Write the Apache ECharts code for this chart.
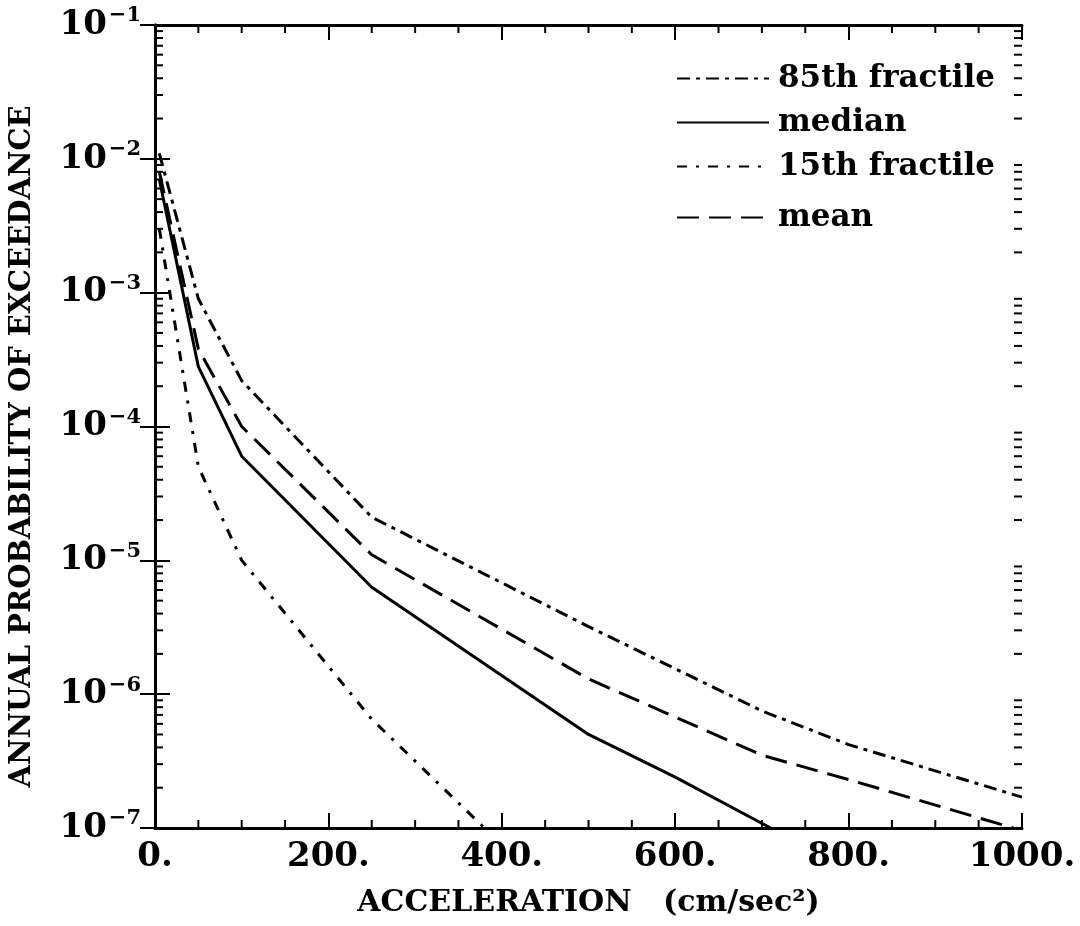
<!DOCTYPE html>
<html>
<head>
<meta charset="utf-8">
<script src="https://cdn.jsdelivr.net/npm/echarts@6/dist/echarts.min.js"></script>
<style>html,body{margin:0;padding:0;background:#fff}#c{width:1080px;height:926px}</style>
</head>
<body>
<div id="c"></div>
<script>
// ---- data ----
const xTickLabels = [0, 200, 400, 600, 800, 1000];
const p85X = [5, 50, 100, 250, 500, 700, 800, 1000];
const p85Y = [1.1e-2, 9e-4, 2.2e-4, 2.1e-5, 3.2e-6, 7.5e-7, 4.2e-7, 1.7e-7];
const medianX = [5, 50, 100, 250, 500, 600, 710];
const medianY = [7e-3, 2.8e-4, 6e-5, 6.3e-6, 5e-7, 2.4e-7, 1e-7];
const p15X = [5, 50, 100, 250, 380];
const p15Y = [3e-3, 5e-5, 1e-5, 6.5e-7, 1e-7];
const meanX = [5, 50, 100, 250, 500, 700, 800, 990];
const meanY = [8e-3, 3.8e-4, 1.0e-4, 1.1e-5, 1.3e-6, 3.5e-7, 2.3e-7, 1e-7];
const yMinorTicks = [];
for (let e = -7; e < -1; e++) for (let m = 2; m <= 9; m++) yMinorTicks.push(m * Math.pow(10, e));
const xMinorTicks = [50, 100, 150, 250, 300, 350, 450, 500, 550, 650, 700, 750, 850, 900, 950];

const zip = (xs, ys) => xs.map((x, i) => [x, ys[i]]);
const FONT = '"DejaVu Serif", serif';
const chart = echarts.init(document.getElementById('c'), null, {renderer: 'canvas'});

const tickSeries = {
  type: 'custom', silent: true, clip: false, z: 5,
  data: yMinorTicks.map(v => [0, v, 'y']).concat(xMinorTicks.map(v => [v, 1e-7, 'x'])),
  encode: {x: 0, y: 1},
  renderItem: function (params, api) {
    const kind = api.value(2);
    const lines = [];
    const st = {stroke: '#000', lineWidth: 2};
    if (kind === 'y') {
      const v = api.value(1);
      const l = api.coord([0, v]);
      const r = api.coord([1000, v]);
      lines.push({type: 'line', shape: {x1: l[0], y1: l[1], x2: l[0] + 8, y2: l[1]}, style: st});
      lines.push({type: 'line', shape: {x1: r[0], y1: r[1], x2: r[0] - 8, y2: r[1]}, style: st});
    } else {
      const v = api.value(0);
      const b = api.coord([v, 1e-7]);
      const t = api.coord([v, 1e-1]);
      lines.push({type: 'line', shape: {x1: b[0], y1: b[1], x2: b[0], y2: b[1] - 8}, style: st});
      lines.push({type: 'line', shape: {x1: t[0], y1: t[1], x2: t[0], y2: t[1] + 8}, style: st});
    }
    return {type: 'group', children: lines};
  }
};

const lineBase = (name, data, dash) => ({
  name: name, type: 'line', data: data, symbol: 'none', smooth: false,
  lineStyle: {color: '#000', width: 3, type: dash, cap: 'butt'},
  itemStyle: {color: '#000'}, z: 3
});

const legendText = {fontFamily: FONT, fontWeight: 'bold', fontSize: 31, color: '#000', padding: [0, 0, 0, 4]};

const option = {
  backgroundColor: '#fff',
  animation: false,
  grid: {left: 154, top: 25, width: 868, height: 803},
  legend: [{
    data: ['85th fractile', 'median', '15th fractile'],
    orient: 'vertical', left: 671, top: 58, itemWidth: 92, itemHeight: 28, itemGap: 13,
    selectedMode: false, itemStyle: {opacity: 0},
    textStyle: legendText
  }, {
    data: ['mean'],
    orient: 'vertical', left: 671, top: 197, itemWidth: 92, itemHeight: 28,
    selectedMode: false, itemStyle: {opacity: 0},
    textStyle: legendText
  }],
  xAxis: [{
    type: 'value', min: 0, max: 1000, interval: 200, position: 'bottom',
    name: 'ACCELERATION   (cm/sec²)', nameLocation: 'middle', nameGap: 60,
    nameTextStyle: {fontFamily: FONT, fontWeight: 'bold', fontSize: 30, color: '#000'},
    axisLine: {lineStyle: {color: '#000', width: 3}},
    axisTick: {inside: true, length: 15, lineStyle: {color: '#000', width: 2}},
    axisLabel: {fontFamily: FONT, fontWeight: 'bold', fontSize: 34, color: '#000', margin: 12,
      formatter: v => xTickLabels.indexOf(v) >= 0 ? v + '.' : ''},
    splitLine: {show: false}
  }, {
    type: 'value', min: 0, max: 1000, interval: 200, position: 'top',
    axisLine: {lineStyle: {color: '#000', width: 3}},
    axisTick: {inside: true, length: 15, lineStyle: {color: '#000', width: 2}},
    axisLabel: {show: false}, splitLine: {show: false}
  }],
  yAxis: [{
    type: 'log', logBase: 10, min: 1e-7, max: 1e-1, interval: 1, position: 'left',
    name: 'ANNUAL PROBABILITY OF EXCEEDANCE', nameLocation: 'middle', nameGap: 118, nameRotate: 90,
    nameTextStyle: {fontFamily: FONT, fontWeight: 'bold', fontSize: 29, color: '#000', padding: [0, 40, 0, 0]},
    axisLine: {lineStyle: {color: '#000', width: 3}},
    axisTick: {inside: true, length: 15, lineStyle: {color: '#000', width: 2}},
    axisLabel: {
      margin: 14, color: '#000',
      formatter: v => '{b|10}{s|−' + Math.round(-Math.log10(v)) + '}',
      rich: {
        b: {fontFamily: FONT, fontWeight: 'bold', fontSize: 34, color: '#000'},
        s: {fontFamily: FONT, fontWeight: 'bold', fontSize: 21, color: '#000', padding: [0, 0, 18, 2]}
      }
    },
    splitLine: {show: false}
  }, {
    type: 'log', logBase: 10, min: 1e-7, max: 1e-1, interval: 1, position: 'right',
    axisLine: {lineStyle: {color: '#000', width: 3}},
    axisTick: {inside: true, length: 15, lineStyle: {color: '#000', width: 2}},
    axisLabel: {show: false}, splitLine: {show: false}
  }],
  series: [
    lineBase('85th fractile', zip(p85X, p85Y), [13, 6, 4, 6]),
    lineBase('median', zip(medianX, medianY), 'solid'),
    lineBase('15th fractile', zip(p15X, p15Y), [10, 9, 3, 9]),
    lineBase('mean', zip(meanX, meanY), [22, 10]),
    tickSeries
  ]
};
chart.setOption(option);
</script>
</body>
</html>
